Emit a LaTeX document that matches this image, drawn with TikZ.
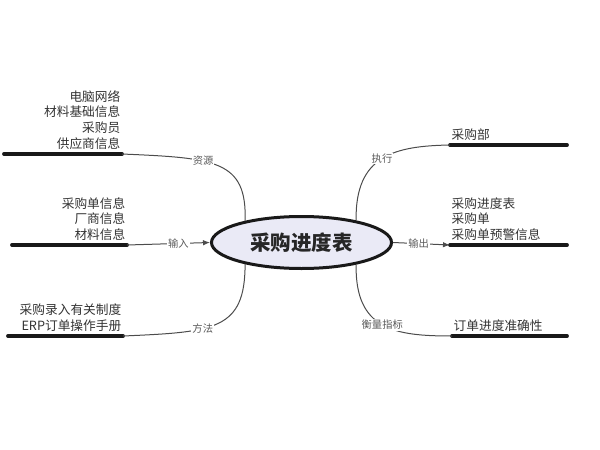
\documentclass[tikz,border=0pt]{standalone}
\usepackage{fontspec}
\setmainfont{Noto Sans CJK SC}
\usepackage{xcolor}
\usepackage{tikz}
\usetikzlibrary{positioning, arrows.meta, shapes.geometric}

\definecolor{ink}{HTML}{333333}
\definecolor{lav}{HTML}{EAEAF6}

\begin{document}
\begin{tikzpicture}[x=1pt, y=1pt,
  bar/.style={draw=black!90, line width=3.8pt, line cap=round},
  link/.style={draw=black!70, line width=1pt},
  arrow/.style={link, -{Latex[length=7pt, width=5.5pt]}},
  txt/.style={font=\fontsize{12.7}{15.6}\selectfont, text=ink, inner sep=1.5pt},
  lbl/.style={font=\fontsize{10.3}{11}\selectfont, text=black!65, fill=white, inner sep=1pt},
  core/.style={ellipse, draw=black!90, fill=lav, line width=3pt, inner sep=0pt,
    minimum width=180pt, minimum height=52pt,
    font=\fontsize{20.5}{24}\selectfont\bfseries, text=black!85}]

  \useasboundingbox (0,0) rectangle (600,-450);

  \node[core] (plan) at (301.5,-242.5) {采购进度表};

  % left side
  \coordinate (res-l) at (4,-154);
  \coordinate (res-r) at (122,-154);
  \coordinate (inp-l) at (12,-245);
  \coordinate (inp-r) at (127,-245);
  \coordinate (met-l) at (8,-336);
  \coordinate (met-r) at (123,-336);

  \node[txt, align=right, above left=3pt and 0pt of res-r] (res)
    {电脑网络\\材料基础信息\\采购员\\供应商信息};
  \node[txt, align=right, above left=3pt and 0pt of inp-r] (inp)
    {采购单信息\\厂商信息\\材料信息};
  \node[txt, align=right, above left=3pt and 0pt of met-r] (met)
    {采购录入有关制度\\ERP订单操作手册};

  % right side
  \coordinate (exe-l) at (450,-145);
  \coordinate (exe-r) at (567,-145);
  \coordinate (out-l) at (450,-245);
  \coordinate (out-r) at (567,-245);
  \coordinate (kpi-l) at (452,-336);
  \coordinate (kpi-r) at (567,-336);

  \node[txt, align=left, above right=3pt and 0pt of exe-l] (exe) {采购部};
  \node[txt, align=left, above right=3pt and 0pt of out-l] (out)
    {采购进度表\\采购单\\采购单预警信息};
  \node[txt, align=left, above right=3pt and 0pt of kpi-l] (kpi) {订单进度准确性};

  \draw[bar] (res-l) -- (res-r);
  \draw[bar] (inp-l) -- (inp-r);
  \draw[bar] (met-l) -- (met-r);
  \draw[bar] (exe-l) -- (exe-r);
  \draw[bar] (out-l) -- (out-r);
  \draw[bar] (kpi-l) -- (kpi-r);

  \draw[link] (res-r) .. controls (215,-158) and (247,-160) .. node[lbl, pos=0.38] {资源} (plan.159);
  \draw[arrow] (inp-r) -- node[lbl, pos=0.62] {输入} (plan.west);
  \draw[link] (met-r) .. controls (215,-332) and (245,-330) .. node[lbl, pos=0.38] {方法} (plan.-159);

  \draw[link] (plan.22) .. controls (355,-155) and (395,-146) .. node[lbl, pos=0.5] {执行} (exe-l);
  \draw[arrow] (plan.east) -- node[lbl, pos=0.45] {输出} (out-l);
  \draw[link] (plan.-22) .. controls (355,-330) and (395,-336) .. node[lbl, pos=0.5] {衡量指标} (kpi-l);
\end{tikzpicture}
\end{document}
